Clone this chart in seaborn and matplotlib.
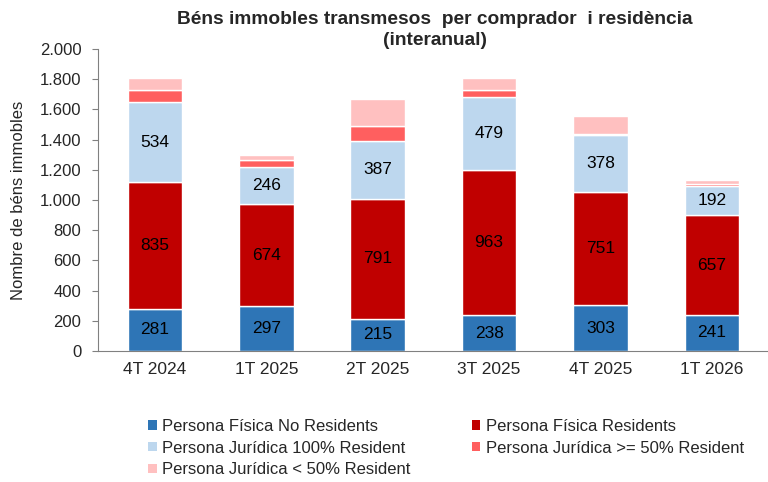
import numpy as np
import pandas as pd
import matplotlib
matplotlib.use('Agg')
import matplotlib.pyplot as plt
import seaborn as sns
from matplotlib.patches import Patch

quarters = ['4T 2024', '1T 2025', '2T 2025', '3T 2025', '4T 2025', '1T 2026']
pf_no_res = [281, 297, 215, 238, 303, 241]
pf_res = [835, 674, 791, 963, 751, 657]
pj_100 = [534, 246, 387, 479, 378, 192]
pj_50plus = [80, 47, 95, 50, 8, 15]
pj_50minus = [75, 32, 183, 77, 115, 25]

series_names = ['Persona Física No Residents', 'Persona Física Residents',
                'Persona Jurídica 100% Resident', 'Persona Jurídica >= 50% Resident',
                'Persona Jurídica < 50% Resident']
series_values = [pf_no_res, pf_res, pj_100, pj_50plus, pj_50minus]
colors = ['#2E75B6', '#C00000', '#BDD7EE', '#FF5F5F', '#FFC0C0']
labelled = [True, True, True, False, False]

sns.set_style('white')
plt.rcParams['font.family'] = ['Liberation Sans', 'DejaVu Sans']

fig = plt.figure(figsize=(7.68, 4.82), dpi=100)
ax = fig.add_axes([0.1276, 0.2718, 0.872, 0.6265])

bottom = np.zeros(len(quarters))
for name, vals, col, lab in zip(series_names, series_values, colors, labelled):
    df = pd.DataFrame({'quarter': quarters, 'value': vals})
    sns.barplot(data=df, x='quarter', y='value', order=quarters, color=col,
                bottom=bottom.copy(), width=0.49, edgecolor='white', linewidth=1,
                saturation=1, ax=ax)
    if lab:
        for i, v in enumerate(vals):
            ax.text(i, bottom[i] + v / 2, f'{v}', ha='center', va='center',
                    fontsize=12.5, color='black')
    bottom += np.array(vals)

ax.set_ylim(0, 2000)
ax.set_xlim(-0.51, len(quarters) - 0.5)
ticks = np.arange(0, 2001, 200)
ax.set_yticks(ticks)
ax.set_yticklabels([f'{t:,}'.replace(',', '.') for t in ticks], fontsize=12)
ax.tick_params(axis='x', labelsize=12.5, length=0, pad=8)
ax.tick_params(axis='y', left=True, length=4, color='#808080', width=0.8, pad=8)
ax.set_xlabel('')
ax.set_ylabel('Nombre de béns immobles', fontsize=12, labelpad=10)
for s in ['top', 'right']:
    ax.spines[s].set_visible(False)
for s in ['left', 'bottom']:
    ax.spines[s].set_color('#808080')
    ax.spines[s].set_linewidth(0.8)

fig.text(0.566, 0.960, 'Béns immobles transmesos  per comprador  i residència',
         ha='center', va='center', fontsize=13.8, fontweight='bold')
fig.text(0.566, 0.915, '(interanual)', ha='center', va='center',
         fontsize=13.8, fontweight='bold')

# column-major fill -> reorder so rows read like the reference
order = [0, 2, 4, 1, 3]
handles = [Patch(facecolor=colors[i], edgecolor='none') for i in order]
labels = [series_names[i] for i in order]
fig.legend(handles, labels, loc='upper left', bbox_to_anchor=(0.193, 0.131),
           ncol=2, frameon=False, fontsize=12,
           handlelength=0.5, handleheight=0.5,
           handletextpad=0.35, columnspacing=3.65, labelspacing=0.4,
           borderaxespad=0, borderpad=0)

fig.savefig('out.png', dpi=100)
